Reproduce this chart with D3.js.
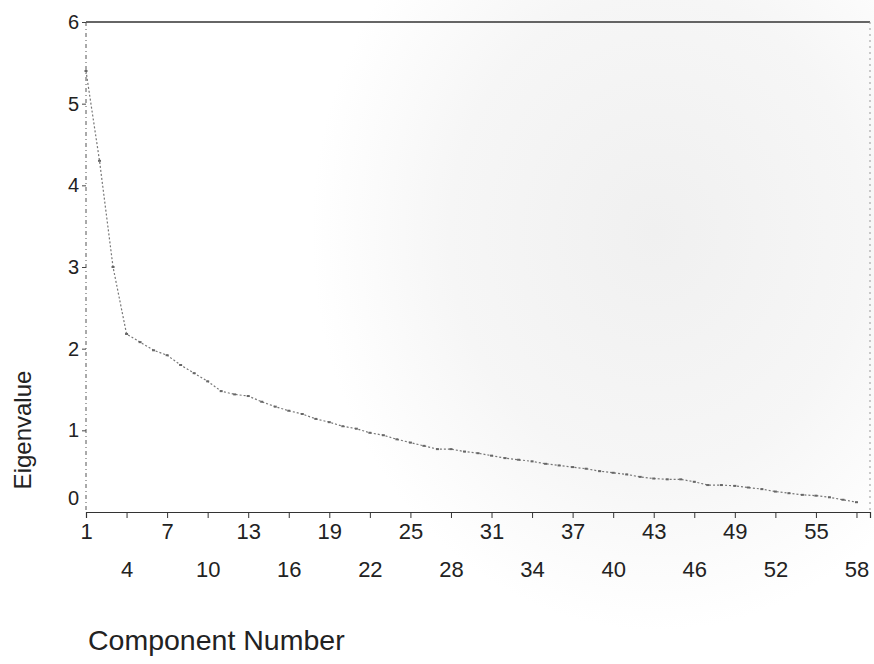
<!DOCTYPE html>
<html>
<head>
<meta charset="utf-8">
<script src="https://cdn.jsdelivr.net/npm/d3@7"></script>
<style>
  html, body { margin: 0; padding: 0; background: #fff; }
  svg { display: block; }
  text { font-family: "Liberation Sans", Arial, sans-serif; fill: #222; }
</style>
</head>
<body>
<svg id="chart" width="874" height="664"></svg>
<script>
// ---- data ----
const components = d3.range(1, 59);
const eigenvalues = [
  5.40, 4.30, 3.00, 2.18, 2.08, 1.98, 1.92, 1.80, 1.70, 1.60,
  1.48, 1.44, 1.42, 1.35, 1.29, 1.24, 1.20, 1.14, 1.10, 1.05,
  1.02, 0.97, 0.94, 0.89, 0.85, 0.81, 0.77, 0.77, 0.74, 0.72,
  0.69, 0.66, 0.64, 0.62, 0.59, 0.57, 0.55, 0.53, 0.50, 0.48,
  0.46, 0.43, 0.41, 0.40, 0.40, 0.37, 0.33, 0.33, 0.32, 0.30,
  0.28, 0.25, 0.23, 0.21, 0.20, 0.18, 0.15, 0.12
];
const xTicks = d3.range(1, 59, 3);   // 1,4,7,...,58
const yTicks = [0, 1, 2, 3, 4, 5, 6];
const xTitle = "Component Number";
const yTitle = "Eigenvalue";

// ---- layout ----
const svg = d3.select("#chart");
const mLeft = 86, mRight = 870, mTop = 22, mBottom = 512;

const defs = svg.append("defs");
const grad = defs.append("radialGradient").attr("id", "bg")
  .attr("cx", 0.62).attr("cy", 0.35).attr("r", 0.6);
grad.append("stop").attr("offset", "0%").attr("stop-color", "#f0f0f0");
grad.append("stop").attr("offset", "60%").attr("stop-color", "#f6f6f6");
grad.append("stop").attr("offset", "100%").attr("stop-color", "#ffffff");
svg.append("rect").attr("width", 874).attr("height", 664).attr("fill", "#fff");
svg.append("rect").attr("x", 300).attr("width", 574).attr("height", 664).attr("fill", "url(#bg)");

const x = d3.scaleLinear().domain([1, 59]).range([mLeft, mRight]);
const y = d3.scaleLinear().domain([0, 6]).range([mBottom, mTop]);

// frame
svg.append("line").attr("x1", mLeft).attr("x2", mRight).attr("y1", mTop).attr("y2", mTop)
  .attr("stroke", "#333").attr("stroke-width", 1.3);
svg.append("line").attr("x1", mLeft).attr("x2", mLeft).attr("y1", mTop).attr("y2", mBottom)
  .attr("stroke", "#555").attr("stroke-width", 1).attr("stroke-dasharray", "4,3,1,3");
svg.append("line").attr("x1", mRight).attr("x2", mRight).attr("y1", mTop).attr("y2", mBottom)
  .attr("stroke", "#999").attr("stroke-width", 1).attr("stroke-dasharray", "2,4");

// x axis
const xAxis = d3.axisBottom(x).tickValues(xTicks).tickSize(6).tickFormat("");
const gx = svg.append("g").attr("transform", `translate(0,${mBottom})`).call(xAxis);
gx.select(".domain").attr("stroke", "#333").attr("stroke-width", 1.2);
gx.selectAll(".tick line").attr("stroke", "#333");
gx.selectAll(".tick").append("text")
  .attr("text-anchor", "middle")
  .attr("y", (d, i) => i % 2 === 0 ? 27 : 65)
  .attr("font-size", 22)
  .text(d => d);

// y axis
const yAxis = d3.axisLeft(y).tickValues(yTicks.slice(1)).tickSize(4).tickFormat("");
const gy = svg.append("g").attr("transform", `translate(${mLeft},0)`).call(yAxis);
gy.select(".domain").remove();
gy.selectAll(".tick line").attr("stroke", "#444");
svg.append("g").selectAll("text").data(yTicks).join("text")
  .attr("x", 79)
  .attr("y", d => d === 0 ? y(0) - 14 : y(d))
  .attr("dy", "0.35em")
  .attr("text-anchor", "end")
  .attr("font-size", 20)
  .text(d => d);

// scree line
const pts = components.map((c, i) => ({ c, v: eigenvalues[i] }));
const line = d3.line().x(d => x(d.c)).y(d => y(d.v));
svg.append("path").datum(pts)
  .attr("d", line)
  .attr("fill", "none")
  .attr("stroke", "#777")
  .attr("stroke-width", 1.2)
  .attr("stroke-dasharray", "2,2");
svg.append("g").selectAll("rect").data(pts).join("rect")
  .attr("x", d => x(d.c) - 1.5)
  .attr("y", d => y(d.v) - 1)
  .attr("width", 3).attr("height", 2)
  .attr("fill", "#666");

// titles
svg.append("text").attr("x", 88).attr("y", 650)
  .attr("font-size", 28.5).attr("text-anchor", "start").text(xTitle);
svg.append("text")
  .attr("transform", "translate(31,430) rotate(-90)")
  .attr("font-size", 24).attr("text-anchor", "middle").text(yTitle);
</script>
</body>
</html>
